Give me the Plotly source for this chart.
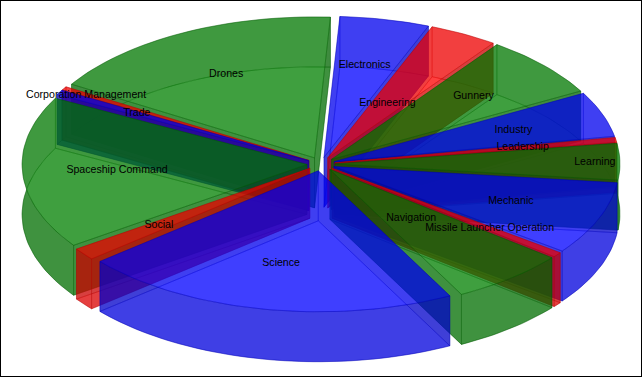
import math
import plotly.graph_objects as go

categories = ["Corporation Management", "Drones", "Electronics", "Engineering", "Gunnery",
              "Industry", "Leadership", "Learning", "Mechanic", "Missile Launcher Operation",
              "Navigation", "Science", "Social", "Spaceship Command", "Trade"]
values = [1.5, 61.7, 18.3, 14, 25.5, 18.6, 2, 15, 30.2, 2, 23.7, 77.5, 5, 63, 2]
label_radius = [0.91, 0.668, 0.668, 0.44, 0.668, 0.668, 0.668, 0.912, 0.668, 0.70, 0.45, 0.668, 0.668, 0.668, 0.69]
palette = [(255, 0, 0), (0, 128, 0), (0, 0, 255)]
draw_order = ["Drones", "Electronics", "Engineering", "Gunnery", "Industry", "Leadership", "Learning",
              "Mechanic", "Missile Launcher Operation", "Navigation", "Corporation Management",
              "Trade", "Spaceship Command", "Social", "Science"]

START = 300.0
CX, CY, RX, RY, DEPTH = 321.0, 164.0, 285.0, 141.0, 50.0
EXPLODE = 0.049
ALPHA = 0.5
WALL_SHADE = 0.78
OUTER_SHADE = 0.8

total = sum(values)
fig = go.Figure()


def rgba(c, a, s=1.0):
    return f"rgba({c[0]*s:.0f},{c[1]*s:.0f},{c[2]*s:.0f},{a})"


def add_poly(xs, ys, color, shade=1.0):
    fig.add_trace(go.Scatter(
        x=xs + xs[:1], y=ys + ys[:1], mode="lines", fill="toself",
        fillcolor=rgba(color, ALPHA, shade),
        line=dict(color=rgba(color, 0.3, 0.7), width=1),
        hoverinfo="skip", showlegend=False))


geom = {}
angle = START
for i, (name, v) in enumerate(zip(categories, values)):
    a0 = angle
    a1 = angle + v / total * 360.0
    angle = a1
    geom[name] = (a0, a1, palette[i % 3])

labels_x, labels_y = [], []
for name, lr in zip(categories, label_radius):
    a0, a1, _ = geom[name]
    m = math.radians((a0 + a1) / 2)
    ox = CX + EXPLODE * RX * math.sin(m)
    oy = CY - EXPLODE * RY * math.cos(m)
    labels_x.append(ox + lr * RX * math.sin(m))
    labels_y.append(oy - lr * RY * math.cos(m))

for name in draw_order:
    a0, a1, col = geom[name]
    m = math.radians((a0 + a1) / 2)
    ox = CX + EXPLODE * RX * math.sin(m)
    oy = CY - EXPLODE * RY * math.cos(m)
    n = max(2, int((a1 - a0) / 1.5) + 1)
    angs = [math.radians(a0 + (a1 - a0) * k / n) for k in range(n + 1)]
    ax = [ox + RX * math.sin(t) for t in angs]
    ay = [oy - RY * math.cos(t) for t in angs]
    # bottom face
    add_poly([ox] + ax, [oy + DEPTH] + [y + DEPTH for y in ay], col)
    # radial walls
    add_poly([ox, ax[0], ax[0], ox], [oy, ay[0], ay[0] + DEPTH, oy + DEPTH], col, WALL_SHADE)
    add_poly([ox, ax[-1], ax[-1], ox], [oy, ay[-1], ay[-1] + DEPTH, oy + DEPTH], col, WALL_SHADE)
    # outer wall
    add_poly(ax + ax[::-1], ay + [y + DEPTH for y in ay[::-1]], col, OUTER_SHADE)
    # top face
    add_poly([ox] + ax, [oy] + ay, col)

fig.add_trace(go.Scatter(
    x=labels_x, y=labels_y, mode="text", text=categories, textposition="middle center",
    textfont=dict(family="Liberation Sans", size=10.6, color="black"),
    hoverinfo="skip", showlegend=False))

fig.update_layout(
    width=642, height=377, margin=dict(l=0, r=0, t=0, b=0),
    paper_bgcolor="white", plot_bgcolor="white",
    xaxis=dict(range=[0, 642], visible=False, fixedrange=True),
    yaxis=dict(range=[377, 0], visible=False, fixedrange=True),
    shapes=[dict(type="rect", xref="paper", yref="paper", x0=0, y0=0, x1=1, y1=1,
                 line=dict(color="black", width=2), fillcolor="rgba(0,0,0,0)")])
fig.write_html("out.html", config=dict(displayModeBar=False),
               post_script="document.body.style.margin='0';document.documentElement.style.overflow='hidden';")
